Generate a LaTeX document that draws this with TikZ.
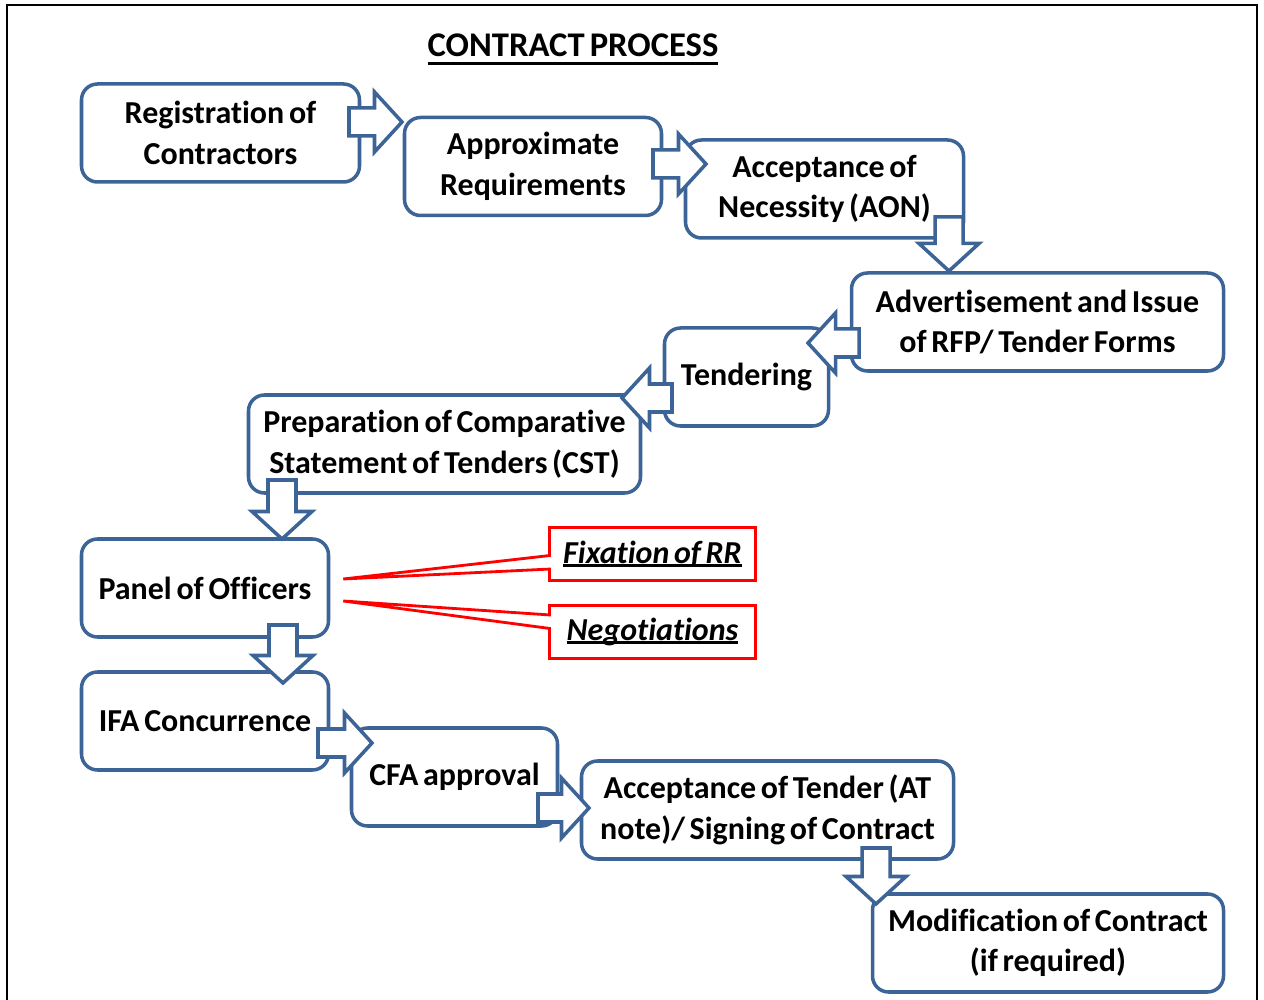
\documentclass[tikz,border=0pt]{standalone}
\usepackage{fontspec}
\setmainfont[Ligatures=NoCommon, WordSpace=0.65]{Carlito}
\usetikzlibrary{calc,shapes.callouts}
\definecolor{boxblue}{HTML}{3C6496}

% hollow block arrow from coordinate #1 (tail) to #2 (tip)
\newcommand{\flowarrow}[2]{%
  \coordinate (hb) at ($(#2)!0.55cm!(#1)$);
  \draw[blockarrow] ($(#1)!0.28cm!90:(#2)$) -- ($(hb)!0.28cm!-90:(#1)$)
    -- ($(hb)!0.6cm!-90:(#1)$) -- (#2) -- ($(hb)!0.6cm!90:(#1)$)
    -- ($(hb)!0.28cm!90:(#1)$) -- ($(#1)!0.28cm!-90:(#2)$) -- cycle;
}
% text with an underline at a fixed depth: text, depth, thickness
\newcommand{\undertext}[3]{\sbox0{#1}\rlap{\usebox0}\rule[#2]{\wd0}{#3}}

\begin{document}
\begin{tikzpicture}[
  stepbox/.style={rectangle, rounded corners=0.32cm, draw=boxblue, fill=white,
    line width=2pt, minimum height=1.96cm, align=center, inner sep=2pt,
    font=\bfseries\fontsize{18.2}{23}\selectfont},
  notebox/.style={rectangle callout, draw=red, fill=white, line width=1.6pt,
    minimum width=4.12cm, minimum height=1.06cm, callout pointer width=0.27cm,
    font=\bfseries\itshape\fontsize{18.2}{23}\selectfont},
  blockarrow/.style={draw=boxblue, fill=white, line width=2pt, line join=miter},
  titletext/.style={font=\bfseries\fontsize{19.7}{24}\selectfont}
]
\useasboundingbox (0,0) rectangle (25.28,20);

% ---------- Frame ----------
\draw[line width=1.4pt] (0.14,0) -- (0.14,19.9) -- (25.14,19.9) -- (25.14,0);

% ---------- Title ----------
\node[titletext, anchor=base] (title) at (11.46,18.86)
  {\undertext{CONTRACT PROCESS}{-4.8pt}{1.7pt}};

% ---------- Process steps ----------
\node[stepbox, minimum width=5.56cm] (reg) at (4.41,17.34) {Registration of\\Contractors};
\node[stepbox, minimum width=5.14cm] (appr) at (10.66,16.67) {Approximate\\Requirements};
\node[stepbox, minimum width=5.56cm] (aon) at (16.49,16.22) {Acceptance of\\Necessity (AON)};
\node[stepbox, minimum width=7.44cm] (advt) at (20.75,13.56) {Advertisement and Issue\\of RFP/ Tender Forms};
\node[stepbox, minimum width=3.28cm] (tend) at (14.93,12.46) {Tendering};
\node[stepbox, minimum width=7.84cm] (cst) at (8.89,11.12) {Preparation of Comparative\\Statement of Tenders (CST)};
\node[stepbox, minimum width=4.94cm] (pnl) at (4.10,8.24) {Panel of Officers};
\node[stepbox, minimum width=4.94cm] (ifa) at (4.10,5.58) {IFA Concurrence};
\node[stepbox, minimum width=4.12cm] (cfa) at (9.09,4.46) {CFA approval};
\node[stepbox, minimum width=7.44cm] (acc) at (15.35,3.80) {Acceptance of Tender (AT\\note)/ Signing of Contract};
\node[stepbox, minimum width=7.02cm] (mod) at (20.96,1.14) {Modification of Contract\\(if required)};

% ---------- Block arrows ----------
\coordinate (a1s) at (6.98,17.56);  \coordinate (a1e) at (8.04,17.56);
\coordinate (a2s) at (13.06,16.72); \coordinate (a2e) at (14.12,16.72);
\coordinate (a3s) at (18.98,15.66); \coordinate (a3e) at (18.98,14.58);
\coordinate (a4s) at (17.18,13.14); \coordinate (a4e) at (16.16,13.14);
\coordinate (a5s) at (13.44,12.04); \coordinate (a5e) at (12.44,12.04);
\coordinate (a6s) at (5.64,10.40);  \coordinate (a6e) at (5.64,9.22);
\coordinate (a7s) at (5.66,7.50);   \coordinate (a7e) at (5.66,6.34);
\coordinate (a8s) at (6.36,5.14);   \coordinate (a8e) at (7.44,5.14);
\coordinate (a9s) at (10.76,3.84);  \coordinate (a9e) at (11.78,3.84);
\coordinate (a10s) at (17.52,3.04); \coordinate (a10e) at (17.52,1.92);
\flowarrow{a1s}{a1e}
\flowarrow{a2s}{a2e}
\flowarrow{a3s}{a3e}
\flowarrow{a4s}{a4e}
\flowarrow{a5s}{a5e}
\flowarrow{a6s}{a6e}
\flowarrow{a7s}{a7e}
\flowarrow{a8s}{a8e}
\flowarrow{a9s}{a9e}
\flowarrow{a10s}{a10e}

% ---------- Notes on the panel ----------
\node[notebox, callout absolute pointer={($(pnl.east)+(0.26,0.18)$)}] (fix) at (13.05,8.92)
  {\undertext{Fixation of RR}{-2pt}{1.5pt}};
\node[notebox, callout absolute pointer={($(pnl.east)+(0.26,-0.26)$)}] (neg) at (13.05,7.36)
  {\undertext{Negotiations}{-2pt}{1.5pt}};

\end{tikzpicture}
\end{document}
